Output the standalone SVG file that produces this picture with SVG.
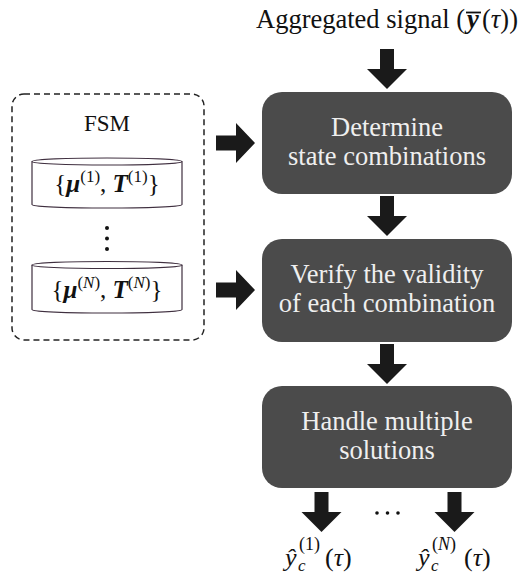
<svg xmlns="http://www.w3.org/2000/svg" xmlns:xlink="http://www.w3.org/1999/xlink" width="526" height="575" viewBox="0 0 526 575" font-family="'Liberation Serif', 'DejaVu Serif', serif">
<style>
text{font-family:'Liberation Serif','DejaVu Serif',serif;}
.box{fill:#4b4b4b;}
.boxtxt{font-size:26.5px;fill:#efefef;text-anchor:middle;}
.lbl{fill:#111;}
.arrow{fill:#1a1a1a;}
.cyl{fill:#ffffff;stroke:#3f2f3f;stroke-width:1.2;}
.bi{font-weight:bold;font-style:italic;}
.it{font-style:italic;}
</style>
<defs>
<path id="adown" d="M-7,0 H7 V20 H20 L0,40 L-20,20 H-7 Z"/>
<path id="aright" d="M0,-7.5 H20 V-20 L39,0 L20,20 V7.5 H0 Z"/>
</defs>
<rect width="526" height="575" fill="#ffffff"/>

<g id="title">
<text class="lbl" x="465" y="28" font-size="26.5" text-anchor="end">Aggregated signal (</text>
<text class="lbl bi" x="467" y="28" font-size="26.5">y</text>
<line x1="466" y1="12.5" x2="481" y2="12.5" stroke="#111" stroke-width="1.8"/>
<text class="lbl" x="482" y="28" font-size="26.5">(<tspan class="it">τ</tspan>))</text>
</g>

<g id="fsm">
<rect x="12" y="94" width="192" height="246" rx="12" ry="12" fill="none" stroke="#222" stroke-width="1.5" stroke-dasharray="6 4"/>
<text class="lbl" x="107" y="131" font-size="23" text-anchor="middle">FSM</text>
<g id="cyl1">
<path class="cyl" d="M32,161.5 V204.5 A75,3.5 0 0 0 182,204.5 V161.5"/>
<ellipse class="cyl" cx="107" cy="161.5" rx="75" ry="3.5"/>
<text class="lbl" x="107" y="192" font-size="25" text-anchor="middle">{<tspan class="bi">μ</tspan><tspan font-size="17" dy="-10">(1)</tspan><tspan dy="10">, </tspan><tspan class="bi">T</tspan><tspan font-size="17" dy="-10">(1)</tspan><tspan dy="10">}</tspan></text>
</g>
<g id="dots">
<circle cx="107" cy="228" r="2" fill="#111"/>
<circle cx="107" cy="238.5" r="2" fill="#111"/>
<circle cx="107" cy="249" r="2" fill="#111"/>
</g>
<g id="cylN">
<path class="cyl" d="M32,265 V309.5 A75,3.5 0 0 0 182,309.5 V265"/>
<ellipse class="cyl" cx="107" cy="265" rx="75" ry="3.5"/>
<text class="lbl" x="107" y="298" font-size="25" text-anchor="middle">{<tspan class="bi">μ</tspan><tspan font-size="17" dy="-10">(<tspan class="it">N</tspan>)</tspan><tspan dy="10">, </tspan><tspan class="bi">T</tspan><tspan font-size="17" dy="-10">(<tspan class="it">N</tspan>)</tspan><tspan dy="10">}</tspan></text>
</g>
</g>

<g id="box1">
<rect class="box" x="262" y="92" width="250" height="102" rx="20" ry="20"/>
<text class="boxtxt" x="387" y="136">Determine</text>
<text class="boxtxt" x="387" y="165">state combinations</text>
</g>
<g id="box2">
<rect class="box" x="262" y="239" width="250" height="103" rx="20" ry="20"/>
<text class="boxtxt" x="387" y="283">Verify the validity</text>
<text class="boxtxt" x="387" y="312">of each combination</text>
</g>
<g id="box3">
<rect class="box" x="262" y="386" width="250" height="102" rx="20" ry="20"/>
<text class="boxtxt" x="387" y="430">Handle multiple</text>
<text class="boxtxt" x="387" y="459">solutions</text>
</g>

<g id="connectors">
<use xlink:href="#adown" class="arrow" x="387" y="49"/>
<use xlink:href="#adown" class="arrow" x="387" y="196"/>
<use xlink:href="#adown" class="arrow" x="387" y="344"/>
<use xlink:href="#aright" class="arrow" x="216" y="143"/>
<use xlink:href="#aright" class="arrow" x="216" y="290"/>
<use xlink:href="#adown" class="arrow" x="321.5" y="492"/>
<use xlink:href="#adown" class="arrow" x="454.5" y="492"/>
</g>

<g id="hdots">
<circle cx="377" cy="513" r="1.8" fill="#111"/>
<circle cx="387.5" cy="513" r="1.8" fill="#111"/>
<circle cx="398" cy="513" r="1.8" fill="#111"/>
</g>

<g id="out1">
<text class="lbl it" x="285" y="566" font-size="26">ŷ</text>
<text class="lbl it" x="298" y="571" font-size="17">c</text>
<text class="lbl" x="299" y="550" font-size="18">(1)</text>
<text class="lbl" x="325" y="566" font-size="26">(<tspan class="it">τ</tspan>)</text>
</g>
<g id="outN">
<text class="lbl it" x="418" y="566" font-size="26">ŷ</text>
<text class="lbl it" x="431" y="571" font-size="17">c</text>
<text class="lbl" x="432" y="550" font-size="18">(<tspan class="it">N</tspan>)</text>
<text class="lbl" x="464" y="566" font-size="26">(<tspan class="it">τ</tspan>)</text>
</g>
</svg>
